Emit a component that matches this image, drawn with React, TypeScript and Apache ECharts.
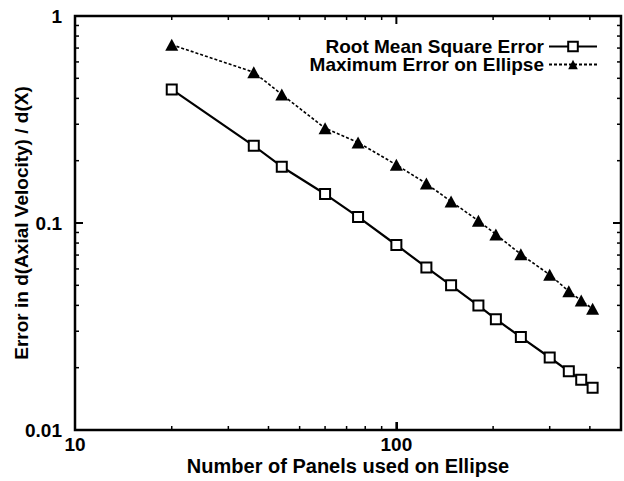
import React, { useEffect, useRef } from "react";
import * as echarts from "echarts";

const panels = [20, 36, 44, 60, 76, 100, 124, 148, 180, 204, 244, 300, 344, 376, 408];
const rmsError = [0.442, 0.236, 0.187, 0.138, 0.107, 0.0783, 0.061, 0.05, 0.0399, 0.0343, 0.0281, 0.0224, 0.0192, 0.0175, 0.016];
const maxError = [0.726, 0.535, 0.418, 0.287, 0.245, 0.191, 0.155, 0.127, 0.1025, 0.0881, 0.0706, 0.0562, 0.0468, 0.0422, 0.0385];
const xTickLabels = [10, 100];
const yTickLabels = [0.01, 0.1, 1];
const xMinorTicks = [20, 30, 40, 50, 60, 70, 80, 90, 200, 300, 400];
const yMinorTicks = [0.02, 0.03, 0.04, 0.05, 0.06, 0.07, 0.08, 0.09, 0.2, 0.3, 0.4, 0.5, 0.6, 0.7, 0.8, 0.9];

const X_MIN = 10;
const X_MAX = 500;
const Y_MIN = 0.01;
const Y_MAX = 1;

const FONT = "'Liberation Sans', Arial, Helvetica, sans-serif";
const MINOR_LEN = 4;
const MAJOR_LEN = 8;

function near(a: number, b: number) {
  return Math.abs(Math.log10(a) - Math.log10(b)) < 1e-6;
}

const labelStyle = {
  fontFamily: FONT,
  fontWeight: "bold",
  fontSize: 19,
  color: "#000",
};

const axisLineStyle = { show: true, onZero: false, lineStyle: { color: "#000", width: 2 } };
const majorTick = { show: true, inside: true, length: 8, lineStyle: { color: "#000", width: 2 } };

function legendItem(name: string, top: number) {
  return {
    data: [name],
    orient: "vertical",
    align: "right",
    right: 26,
    top,
    padding: 0,
    itemWidth: 48,
    itemHeight: 12,
    textStyle: { ...labelStyle, lineHeight: 18 },
  };
}

export default function App() {
  const ref = useRef<HTMLDivElement>(null);
  useEffect(() => {
    if (!ref.current) return;
    const chart = echarts.init(ref.current, undefined, { renderer: "svg" });

    const option: any = {
      animation: false,
      backgroundColor: "#fff",
      textStyle: { fontFamily: FONT },
      grid: {
        left: 75,
        right: 3,
        top: 16,
        bottom: 48,
        show: true,
        borderColor: "#000",
        borderWidth: 2,
        backgroundColor: "transparent",
      },
      legend: [legendItem("Root Mean Square Error", 37), legendItem("Maximum Error on Ellipse", 55)],
      xAxis: [
        {
          type: "log",
          logBase: 10,
          min: X_MIN,
          max: X_MAX,
          position: "bottom",
          name: "Number of Panels used on Ellipse",
          nameLocation: "middle",
          nameGap: 26,
          nameMoveOverlap: false,
          nameTextStyle: { ...labelStyle, fontSize: 20 },
          axisLine: axisLineStyle,
          axisTick: majorTick,
          splitLine: { show: false },
          minorTick: { show: false },
          axisLabel: {
            ...labelStyle,
            margin: 5,
            showMaxLabel: false,
            formatter: (v: number) => {
              const m = xTickLabels.find((t) => near(t, v));
              return m !== undefined ? String(m) : "";
            },
          },
        },
      ],
      yAxis: [
        {
          type: "log",
          logBase: 10,
          min: Y_MIN,
          max: Y_MAX,
          position: "left",
          name: "Error in d(Axial Velocity) / d(X)",
          nameLocation: "middle",
          nameGap: 44,
          nameRotate: 90,
          nameMoveOverlap: false,
          nameTextStyle: { ...labelStyle },
          axisLine: axisLineStyle,
          axisTick: majorTick,
          splitLine: { show: false },
          axisLabel: {
            ...labelStyle,
            margin: 13,
            formatter: (v: number) => {
              const m = yTickLabels.find((t) => near(t, v));
              return m !== undefined ? String(m) : "";
            },
          },
        },
      ],
      series: [
        {
          name: "Root Mean Square Error",
          type: "line",
          z: 3,
          data: panels.map((p, i) => [p, rmsError[i]]),
          symbol: "rect",
          symbolSize: 10,
          showAllSymbol: true,
          color: "#000",
          lineStyle: { color: "#000", width: 2.2, type: "solid" },
          itemStyle: { color: "#fff", borderColor: "#000", borderWidth: 2 },
        },
        {
          name: "Maximum Error on Ellipse",
          type: "line",
          z: 3,
          data: panels.map((p, i) => [p, maxError[i]]),
          symbol: "triangle",
          symbolSize: [13, 12],
          showAllSymbol: true,
          color: "#000",
          lineStyle: { color: "#000", width: 1.6, type: [3, 2] },
          itemStyle: { color: "#000" },
        },
      ],
    };
    chart.setOption(option);

    // Frame and ticks, positioned through the chart's own log scales.
    const toPx = (x: number, y: number) => chart.convertToPixel({ gridIndex: 0 }, [x, y]) as number[];
    const bl = toPx(X_MIN, Y_MIN);
    const tr = toPx(X_MAX, Y_MAX);
    if (bl && tr && isFinite(bl[0]) && isFinite(tr[0])) {
      const left = bl[0], bottom = bl[1], right = tr[0], top = tr[1];
      const els: any[] = [
        {
          type: "rect",
          shape: { x: left, y: top, width: right - left, height: bottom - top },
          style: { fill: "none", stroke: "#000", lineWidth: 2.5 },
          z: 50,
          silent: true,
        },
      ];
      const addX = (v: number, len: number, w: number) => {
        const px = toPx(v, Y_MIN)[0];
        els.push({ type: "line", shape: { x1: px, y1: bottom, x2: px, y2: bottom - len }, style: { stroke: "#000", lineWidth: w }, z: 50, silent: true });
        els.push({ type: "line", shape: { x1: px, y1: top, x2: px, y2: top + len }, style: { stroke: "#000", lineWidth: w }, z: 50, silent: true });
      };
      const addY = (v: number, len: number, w: number) => {
        const py = toPx(X_MIN, v)[1];
        els.push({ type: "line", shape: { x1: left, y1: py, x2: left + len, y2: py }, style: { stroke: "#000", lineWidth: w }, z: 50, silent: true });
        els.push({ type: "line", shape: { x1: right, y1: py, x2: right - len, y2: py }, style: { stroke: "#000", lineWidth: w }, z: 50, silent: true });
      };
      xTickLabels.forEach((v) => addX(v, MAJOR_LEN, 2));
      xMinorTicks.forEach((v) => addX(v, MINOR_LEN, 1.5));
      yTickLabels.forEach((v) => addY(v, MAJOR_LEN, 2));
      yMinorTicks.forEach((v) => addY(v, MINOR_LEN, 1.5));
      chart.setOption({ graphic: { elements: els } });
    }
    return () => chart.dispose();
  }, []);
  return <div ref={ref} style={{ width: 624, height: 481, position: "absolute", left: 0, top: 0 }} />;
}
